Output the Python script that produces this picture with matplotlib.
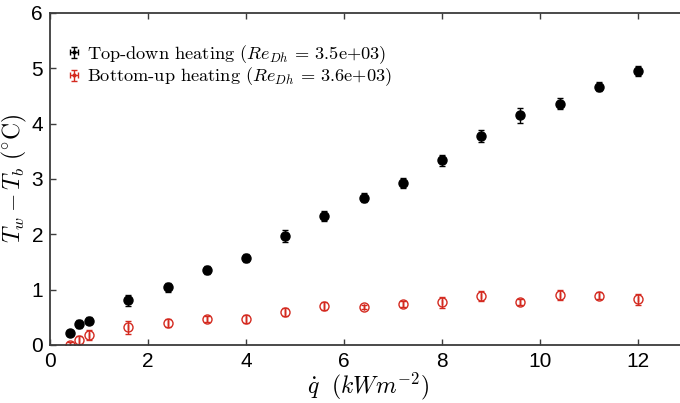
import numpy as np
import matplotlib
matplotlib.use("Agg")
import matplotlib.pyplot as plt
from matplotlib.container import ErrorbarContainer
from matplotlib.legend_handler import HandlerErrorbar

plt.rcParams["mathtext.fontset"] = "cm"
plt.rcParams["font.family"] = ["Liberation Sans", "DejaVu Sans"]

# heat flux (kW m^-2)
Q = [0.4, 0.6, 0.8, 1.6, 2.4, 3.2, 4.0, 4.8, 5.6, 6.4, 7.2, 8.0, 8.8, 9.6, 10.4, 11.2, 12.0]
# x uncertainty is negligible (only visible in the legend glyph)
Q_ERR = [0.0] * len(Q)

# Top-down heating
DT_TOP = [0.22, 0.38, 0.44, 0.81, 1.04, 1.36, 1.57, 1.97, 2.34, 2.66, 2.92, 3.34,
          3.77, 4.15, 4.36, 4.67, 4.95]
ERR_TOP = [0.04, 0.07, 0.06, 0.10, 0.08, 0.07, 0.07, 0.10, 0.09, 0.08, 0.09, 0.10,
           0.11, 0.13, 0.10, 0.08, 0.09]

# Bottom-up heating
DT_BOT = [0.00, 0.09, 0.18, 0.32, 0.40, 0.47, 0.47, 0.59, 0.70, 0.69, 0.74, 0.77,
          0.89, 0.78, 0.91, 0.89, 0.83]
ERR_BOT = [0.05, 0.08, 0.09, 0.12, 0.07, 0.05, 0.07, 0.07, 0.07, 0.04, 0.05, 0.10,
           0.09, 0.05, 0.09, 0.06, 0.10]

RED = "#d42a20"
AXCOL = "#3c3c3c"

fig = plt.figure(figsize=(6.8, 4.03), dpi=100)
# axes runs just past the right edge of the figure, as in the original
ax = fig.add_axes([50 / 680, 58 / 403, 636 / 680, 332 / 403])

ax.errorbar(Q, DT_TOP, yerr=ERR_TOP, xerr=Q_ERR, fmt="o", color="black", ms=6.5,
            elinewidth=1.0, capsize=2.5, capthick=1.0,
            label=r"Top-down heating ($Re_{Dh}$ = 3.5e+03)")
ax.errorbar(Q, DT_BOT, yerr=ERR_BOT, xerr=Q_ERR, fmt="o", color=RED, mfc="none",
            mec=RED, ms=6.5, mew=1.0, elinewidth=1.0, capsize=2.5, capthick=1.0,
            label=r"Bottom-up heating ($Re_{Dh}$ = 3.6e+03)")

ax.set_xlim(0, 636 / 49)
ax.set_ylim(0, 6)
ax.set_xticks([0, 2, 4, 6, 8, 10, 12])
ax.set_yticks([0, 1, 2, 3, 4, 5, 6])

for s in ax.spines.values():
    s.set_color(AXCOL)
    s.set_linewidth(1.3)
ax.tick_params(direction="in", length=4.5, width=1.0, color=AXCOL,
               labelsize=15, pad=5, top=True, right=True)

ax.set_xlabel(r"$\dot{q}\ \ (kWm^{-2})$", fontsize=17, labelpad=0)
ax.set_ylabel(r"$T_w - T_b\ (^{\circ}\mathrm{C})$", fontsize=17, labelpad=2)

leg = ax.legend(loc="upper left", bbox_to_anchor=(0.0, 0.965), frameon=False,
                handlelength=0.6, handletextpad=0.4,
                labelspacing=0.0, markerscale=0.3, borderaxespad=0.6,
                handler_map={ErrorbarContainer: HandlerErrorbar(xerr_size=0.22,
                                                                yerr_size=0.3)},
                prop={"family": "cmr10", "size": 13.2})

fig.savefig("out.png", dpi=100)
